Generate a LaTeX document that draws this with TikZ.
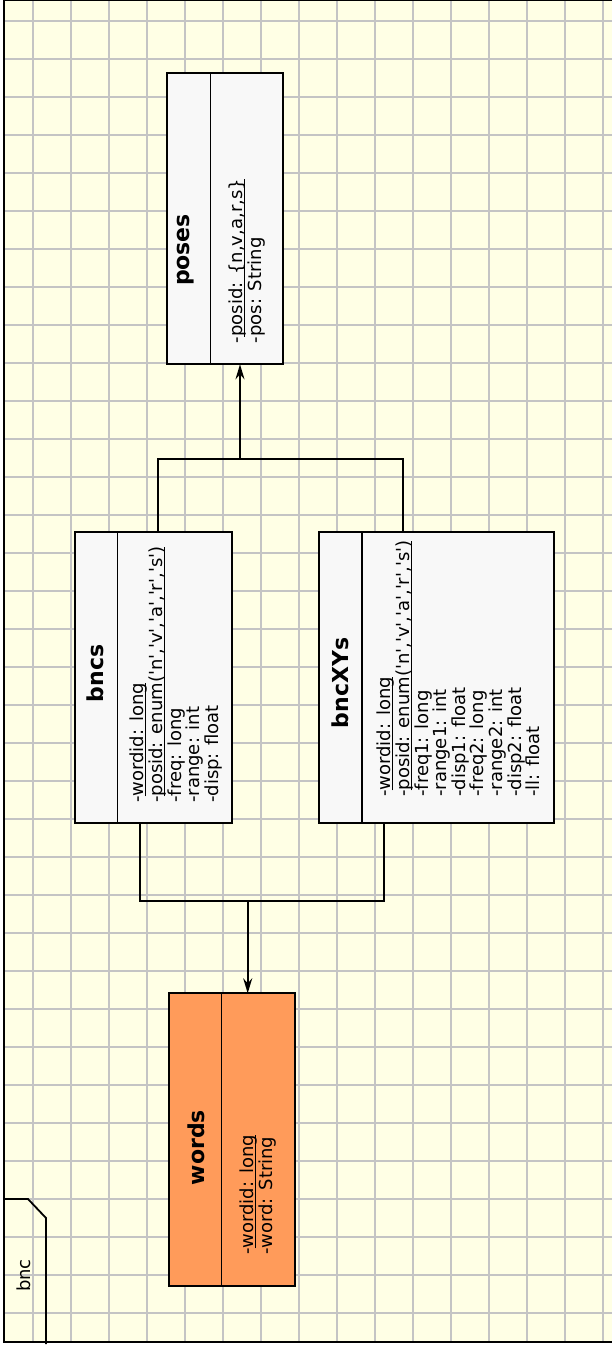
\documentclass[tikz,border=0pt]{standalone}
\usepackage{fontspec}
\newfontfamily\dvs{DejaVu Sans}
\usetikzlibrary{arrows.meta}
\definecolor{bgc}{RGB}{255,255,229}
\definecolor{gridc}{RGB}{196,196,196}
\definecolor{boxc}{RGB}{248,248,248}
\definecolor{orangec}{RGB}{255,155,90}
\newcommand{\ulx}[1]{\setbox0\hbox{#1}\rlap{\rule[-2.4pt]{\wd0}{1.1pt}}\box0}
\tikzset{
  gridline/.style={draw=gridc, line width=1.6pt},
  frameline/.style={draw=black, line width=1.8pt},
  classbox/.style={draw=black, line width=2pt, fill=boxc, rectangle, inner sep=0pt, outer sep=0pt, minimum height=291pt},
  divider/.style={draw=black, line width=1.6pt},
  titletext/.style={rotate=90, inner sep=0pt, font=\dvs\bfseries\fontsize{22}{24}\selectfont},
  attrtext/.style={rotate=90, inner sep=0pt, anchor=north west, align=left, font=\dvs\fontsize{18}{18.6}\selectfont},
  pkgtext/.style={rotate=90, inner sep=0pt, font=\dvs\fontsize{18}{20}\selectfont},
  conn/.style={draw=black, line width=1.9pt},
  arr/.style={conn, -{Stealth[length=15pt,width=9pt,inset=5pt]}},
}
\begin{document}
\begin{tikzpicture}[x=1pt,y=-1pt]
\useasboundingbox (0,0) rectangle (612,1347);
% background and grid
\fill[bgc] (4,0) rectangle (616,1342);
\foreach \gx in {33,71,...,603} \draw[gridline] (\gx,0) -- (\gx,1342);
\foreach \gy in {21,59,...,1313} \draw[gridline] (4,\gy) -- (616,\gy);
% package frame
\draw[frameline] (616,0.5) -- (4,0.5) -- (4,1342) -- (616,1342);
\draw[frameline] (4,1199) -- (28,1199) -- (46,1218) -- (46,1344);
\node[pkgtext] (pkg) at (23.8,1275.5) {bnc};

% class boxes
\node[classbox, minimum width=116pt] (poses) at (225.3,218.8) {};
\node[classbox, minimum width=156.7pt] (bncs) at (153.35,677.5) {};
\node[classbox, minimum width=235pt] (bncXYs) at (436.8,677.5) {};
\node[classbox, fill=orangec, minimum width=126.3pt, minimum height=292.4pt] (words) at (232.15,1139.5) {};

% dividers
\draw[divider] ([xshift=43pt]poses.north west) -- ([xshift=43pt]poses.south west);
\draw[divider] ([xshift=42.3pt]bncs.north west) -- ([xshift=42.3pt]bncs.south west);
\draw[divider] ([xshift=42.4pt]bncXYs.north west) -- ([xshift=42.4pt]bncXYs.south west);
\draw[divider] ([xshift=52.5pt]words.north west) -- ([xshift=52.5pt]words.south west);

% titles
\node[titletext] (posesT) at (185.8,250) {poses};
\node[titletext] (bncsT) at (95,673.5) {bncs};
\node[titletext] (bncXYsT) at (340,683) {bncXYs};
\node[titletext] (wordsT) at (195.8,1147.5) {words};

% attributes
\node[attrtext] (posesA) at (229,343.3) {-\ulx{posid: \{n,v,a,r,s\}}\\-pos: String};
\node[attrtext] (bncsA) at (130,803) {-\ulx{wordid: long}\\-\ulx{posid: enum('n','v','a','r','s')}\\-freq: long\\-range: int\\-disp: float};
\node[attrtext] (bncXYsA) at (377,797) {-\ulx{wordid: long}\\-\ulx{posid: enum('n','v','a','r','s')}\\-freq1: long\\-range1: int\\-disp1: float\\-freq2: long\\-range2: int\\-disp2: float\\-ll: float};
\node[attrtext] (wordsA) at (240,1255) {-\ulx{wordid: long}\\-word: String};

% connectors
\coordinate (jt) at (240,459);
\coordinate (jb) at (247.7,901);
\draw[conn] (158.3,0 |- bncs.north) |- (jt);
\draw[conn] (403.3,0 |- bncXYs.north) |- (jt);
\draw[arr] (jt) -- (jt |- poses.south);
\draw[conn] (140,0 |- bncs.south) |- (jb);
\draw[conn] (384.3,0 |- bncXYs.south) |- (jb);
\draw[arr] (jb) -- (jb |- words.north);
\end{tikzpicture}
\end{document}
